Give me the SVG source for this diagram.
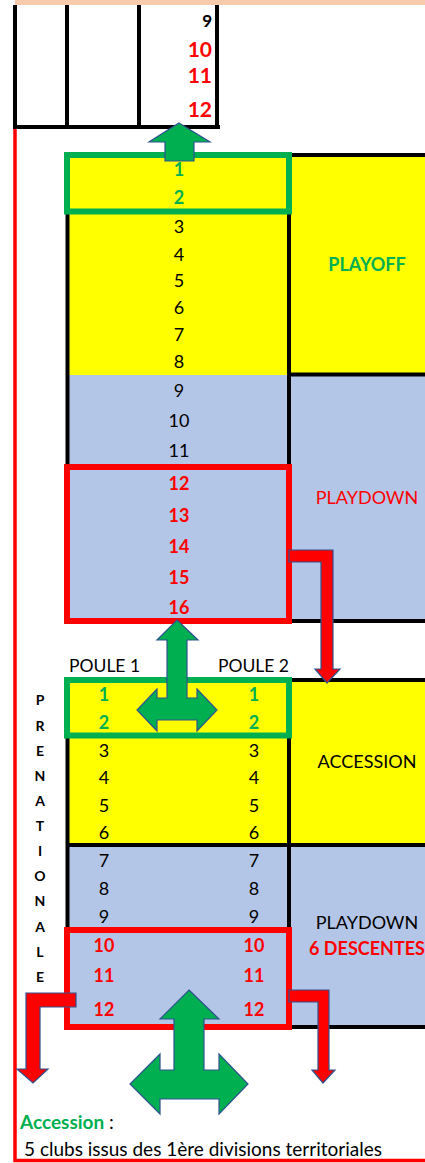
<svg xmlns="http://www.w3.org/2000/svg" width="425" height="1163" viewBox="0 0 425 1163">
<style>
text{font-family:Lato,"Open Sans","Liberation Sans",sans-serif;font-size:18px;fill:#000}
.c{text-anchor:middle}
.r{text-anchor:end}
.b{font-weight:bold}
.g{fill:#00B050;font-weight:bold}
.rd{fill:#FF0000;font-weight:bold}
.yl{fill:#FFFF00}
.bl{fill:#B4C6E7}
.blk{stroke:#000;stroke-width:4;fill:none}
.gr{stroke:#00B050;stroke-width:6;fill:none}
.rr{stroke:#FF0000;stroke-width:6;fill:none}
.ga{fill:#00B050;stroke:#2F528F;stroke-width:1.2}
.ra{fill:#FF0000;stroke:#2F528F;stroke-width:1.2}
.lt{font-size:14px;font-weight:bold}
.lb{font-size:18px}
.nt{font-size:19px}
</style>

<rect x="15" y="0" width="410" height="5" fill="#F8CBAD"/>

<g id="top-table">
  <path class="blk" d="M15,5V127M67,5V127M139,5V127M217,5V129M13,127H220" stroke-width="3.5"/>
  <text class="r b" x="212" y="27" style="font-size:17px">9</text>
  <text class="r rd" x="212" y="57" style="font-size:21px">10</text>
  <text class="r rd" x="212" y="83" style="font-size:21px">11</text>
  <text class="r rd" x="212" y="117" style="font-size:21px">12</text>
</g>

<path d="M15,129V1160.5H425" stroke="#FF0000" stroke-width="3.5" fill="none"/>

<g id="playoff">
  <rect class="yl" x="67" y="155" width="222" height="220"/>
  <rect class="yl" x="289" y="155" width="136" height="220"/>
  <text class="c g" x="179" y="176">1</text>
  <text class="c g" x="179" y="204">2</text>
  <text class="c" x="179" y="233">3</text>
  <text class="c" x="179" y="261">4</text>
  <text class="c" x="179" y="287">5</text>
  <text class="c" x="179" y="314">6</text>
  <text class="c" x="179" y="341">7</text>
  <text class="c" x="179" y="368">8</text>
  <text class="c g" x="367" y="271" style="font-size:18px">PLAYOFF</text>
</g>

<g id="playdown">
  <rect class="bl" x="67" y="375" width="222" height="246"/>
  <rect class="bl" x="289" y="375" width="136" height="246"/>
  <text class="c" x="179" y="397">9</text>
  <text class="c" x="179" y="427">10</text>
  <text class="c" x="179" y="457">11</text>
  <text class="c rd" x="179" y="490">12</text>
  <text class="c rd" x="179" y="522">13</text>
  <text class="c rd" x="179" y="553">14</text>
  <text class="c rd" x="179" y="584">15</text>
  <text class="c rd" x="179" y="614">16</text>
  <text class="c lb" x="367" y="504" style="fill:#FF0000">PLAYDOWN</text>
</g>

<g id="borders-upper">
  <path class="blk" d="M67.5,155V467M289,155V621M287,155H425M289,374.5H425M289,621H425"/>
  <rect class="gr" x="67" y="155" width="222" height="56.5"/>
  <rect class="rr" x="67" y="467" width="222" height="154"/>
</g>

<g id="poule-labels">
  <text x="69" y="672" style="font-size:17.5px">POULE 1</text>
  <text class="r" x="289" y="672" style="font-size:17.5px">POULE 2</text>
</g>

<g id="prenationale">
  <text class="c lt" x="40" y="705">P</text>
  <text class="c lt" x="40" y="731">R</text>
  <text class="c lt" x="40" y="756">E</text>
  <text class="c lt" x="40" y="781">N</text>
  <text class="c lt" x="40" y="806">A</text>
  <text class="c lt" x="40" y="831">T</text>
  <text class="c lt" x="40" y="856">I</text>
  <text class="c lt" x="40" y="881">O</text>
  <text class="c lt" x="40" y="906">N</text>
  <text class="c lt" x="40" y="932">A</text>
  <text class="c lt" x="40" y="957">L</text>
  <text class="c lt" x="40" y="982">E</text>
</g>

<g id="accession">
  <rect class="yl" x="67" y="680" width="222" height="165"/>
  <rect class="yl" x="289" y="680" width="136" height="165"/>
  <text class="c g" x="104" y="701">1</text>
  <text class="c g" x="254" y="701">1</text>
  <text class="c g" x="104" y="729">2</text>
  <text class="c g" x="254" y="729">2</text>
  <text class="c" x="104" y="757">3</text>
  <text class="c" x="254" y="757">3</text>
  <text class="c" x="104" y="784">4</text>
  <text class="c" x="254" y="784">4</text>
  <text class="c" x="104" y="812">5</text>
  <text class="c" x="254" y="812">5</text>
  <text class="c" x="104" y="839">6</text>
  <text class="c" x="254" y="839">6</text>
  <text class="c lb" x="367" y="768">ACCESSION</text>
</g>

<g id="playdown-2">
  <rect class="bl" x="67" y="845" width="222" height="182"/>
  <rect class="bl" x="289" y="845" width="136" height="182"/>
  <text class="c" x="104" y="867">7</text>
  <text class="c" x="254" y="867">7</text>
  <text class="c" x="104" y="895">8</text>
  <text class="c" x="254" y="895">8</text>
  <text class="c" x="104" y="923">9</text>
  <text class="c" x="254" y="923">9</text>
  <text class="c rd" x="104" y="952">10</text>
  <text class="c rd" x="254" y="952">10</text>
  <text class="c rd" x="104" y="982">11</text>
  <text class="c rd" x="254" y="982">11</text>
  <text class="c rd" x="104" y="1016">12</text>
  <text class="c rd" x="254" y="1016">12</text>
  <text class="c lb" x="367" y="929">PLAYDOWN</text>
  <text class="c rd lb" x="367" y="955">6 DESCENTES</text>
</g>

<g id="borders-lower">
  <path class="blk" d="M67.5,735V930M289,680V1027M287,680H425M67,845H425M289,1027H425"/>
  <rect class="gr" x="67" y="680" width="222" height="55.5"/>
  <rect class="rr" x="67" y="930" width="222" height="97"/>
</g>

<g id="connectors">
  <polygon class="ga" points="179,123 210,142 194,142 194,161 165,161 165,142 149,142"/>
  <polygon class="ga" points="177,620 198,640 187,640 187,698 197,698 197,689 217,710 197,731 197,720 157,720 157,731 137,710 157,689 157,698 167,698 167,640 157,640"/>
  <polygon class="ga" points="189,990 219,1019 204,1019 204,1070 219,1070 219,1054 248,1084 219,1114 219,1099 160,1099 160,1114 130,1084 160,1054 160,1070 174,1070 174,1019 160,1019"/>
  <polygon class="ra" points="289,550 333,550 333,669 340,669 327,683 315,669 321,669 321,562 289,562"/>
  <polygon class="ra" points="76,993 26,993 26,1069 17,1069 33,1083 48,1069 40,1069 40,1007 76,1007"/>
  <polygon class="ra" points="289,990 329,990 329,1070 335,1070 323,1083 312,1070 318,1070 318,1002 289,1002"/>
</g>

<g id="note">
  <text class="nt" x="20" y="1129"><tspan class="g">Accession</tspan> :</text>
  <text class="nt" x="24" y="1156">5 clubs issus des 1ère divisions territoriales</text>
</g>
</svg>
